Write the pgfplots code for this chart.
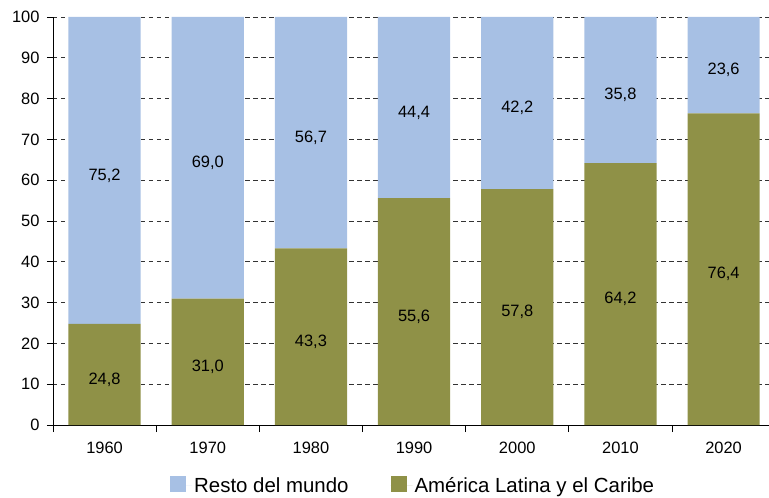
\documentclass[border=0pt]{standalone}
\usepackage{pgfplots}
\pgfplotsset{compat=1.18}
\usepackage{fontspec}
\setmainfont{Liberation Sans}

\definecolor{resto}{RGB}{167,192,228}
\definecolor{alc}{RGB}{143,145,71}

\begin{document}
\begin{tikzpicture}
\useasboundingbox (-53bp,-73bp) rectangle (716bp,425bp);
\begin{axis}[
    at={(0,0)}, anchor=south west,
    scale only axis,
    width=716bp, height=408bp,
    ybar stacked,
    bar width=0.7,
    xmin=-0.5, xmax=6.44,
    ymin=0, ymax=100,
    axis lines*=left,
    axis line style={line width=0.8bp, black},
    tick align=outside,
    major tick length=6bp,
    minor tick length=7bp,
    xtick={0,...,6},
    xticklabels={1960,1970,1980,1990,2000,2010,2020},
    major x tick style={draw=none},
    minor xtick={-0.5,0.5,...,5.5},
    minor x tick style={line width=0.8bp, black},
    ytick={0,10,...,100},
    y tick style={line width=0.8bp, black},
    ymajorgrids,
    grid style={black!80, line width=0.75bp, dash pattern=on 4.5bp off 3.5bp},
    /pgf/number format/assume math mode=true,
    ticklabel style={font=\fontsize{16.5}{19}\selectfont},
    xticklabel style={yshift=-8bp},
    yticklabel style={xshift=-4bp},
    legend style={at={(0.503,-0.149)}, anchor=center, draw=none, fill=none,
        legend columns=2, font=\fontsize{20.5}{23}\selectfont,
        /tikz/every even column/.append style={column sep=40bp}},
    legend image code/.code={\fill[#1, draw=none] (0bp,-6.5bp) rectangle (16bp,9.5bp);
        \path (0bp,0bp) -- (22bp,0bp);},
]
\addplot[fill=alc, draw=none, forget plot] coordinates {(0,24.8) (1,31.0) (2,43.3) (3,55.6) (4,57.8) (5,64.2) (6,76.4)};
\addplot[fill=resto, draw=none, forget plot] coordinates {(0,75.2) (1,69.0) (2,56.7) (3,44.4) (4,42.2) (5,35.8) (6,23.6)};
\addlegendimage{fill=resto, draw=none}
\addlegendentry{Resto del mundo}
\addlegendimage{fill=alc, draw=none}
\addlegendentry{América Latina y el Caribe}
\end{axis}
\begin{axis}[
    at={(0,0)}, anchor=south west,
    scale only axis,
    width=716bp, height=408bp,
    xmin=-0.5, xmax=6.44,
    ymin=0, ymax=100,
    hide axis,
    nodes near coords,
    point meta=explicit symbolic,
    every node near coord/.style={anchor=center, yshift=-5bp, text=black,
        font=\fontsize{16.5}{19}\selectfont},
]
\addplot[only marks, mark=none] coordinates {
    (0,12.4)[24,8] (1,15.5)[31,0] (2,21.65)[43,3] (3,27.8)[55,6]
    (4,28.9)[57,8] (5,32.1)[64,2] (6,38.2)[76,4]};
\addplot[only marks, mark=none] coordinates {
    (0,62.4)[75,2] (1,65.5)[69,0] (2,71.65)[56,7] (3,77.8)[44,4]
    (4,78.9)[42,2] (5,82.1)[35,8] (6,88.2)[23,6]};
\end{axis}
\end{tikzpicture}
\end{document}
